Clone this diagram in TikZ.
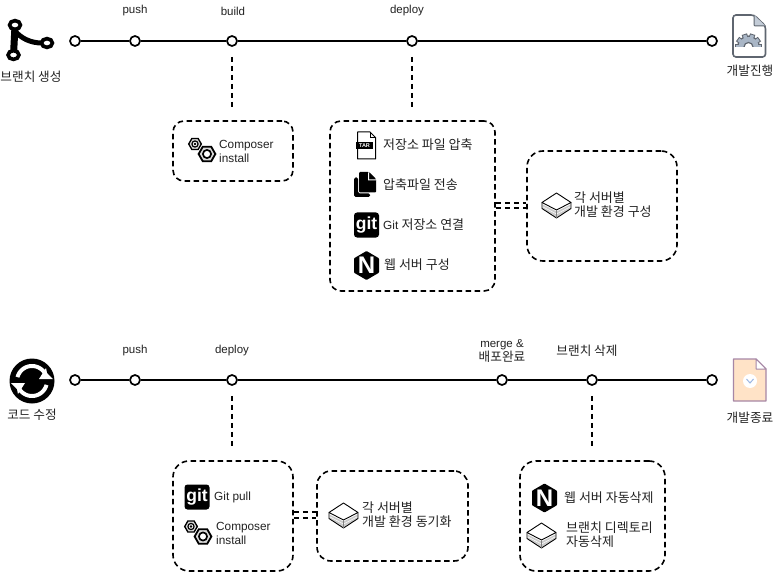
\documentclass[tikz,border=0pt]{standalone}
\usepackage{fontspec}
\setmainfont{Liberation Sans}
\newfontfamily\kr[Scale=1.1]{Noto Sans CJK KR}
\usetikzlibrary{calc}
\definecolor{txt}{HTML}{222222}
\definecolor{gearblue}{HTML}{A9B6C6}
\definecolor{gearline}{HTML}{5F6670}
\tikzset{
  x=1pt,y=-1pt,
  tl/.style={font=\fontsize{11.8}{14}\selectfont,text=txt,inner sep=0pt,align=left,anchor=west},
  tc/.style={font=\fontsize{11.5}{14}\selectfont,text=txt,inner sep=0pt,align=center,anchor=center},
  dot/.style={circle,draw=black,fill=white,line width=1.7pt,minimum size=10pt,inner sep=0pt},
  mainline/.style={draw=black,line width=1.8pt},
  dbox/.style={draw=black,line width=1.6pt,dash pattern=on 5.5pt off 3.5pt,rounded corners=11pt,fill=none,inner sep=0pt},
  dline/.style={draw=black,line width=1.8pt,dash pattern=on 5.5pt off 3.5pt},
  pics/nut/.style args={#1}{code={
    \draw[black,line width=#1*1.5pt,fill=white!70!gray] (0:#1*7)--(60:#1*7)--(120:#1*7)--(180:#1*7)--(240:#1*7)--(300:#1*7)--cycle;
    \draw[black,line width=#1*1.4pt,fill=white] (0,0) circle[radius=#1*3.4];
  }},
  pics/nuts/.style={code={
    \pic at (-6,-5) {nut={0.9}};
    \fill[black] (-6,-5) circle[radius=1.4];
    \pic at (6,5) {nut={1.2}};
  }},
  pics/gitlogo/.style={code={
    \fill[black,rounded corners=3pt] (-12.5,-12.5) rectangle (12.5,12.5);
    \node[text=white,inner sep=0pt,font=\fontsize{17.5}{17.5}\bfseries\selectfont] at (0,0.5) {git};
  }},
  pics/nginxlogo/.style={code={
    \fill[black,rounded corners=0.8pt] (0,-14.5)--(12.5,-7.2)--(12.5,7.2)--(0,14.5)--(-12.5,7.2)--(-12.5,-7.2)--cycle;
    \node[text=white,inner sep=0pt,font=\fontsize{24}{24}\bfseries\selectfont] at (0,0) {N};
  }},
  pics/serverbox/.style={code={
    \fill[white] (-14.5,-3)--(0,-12.5)--(14.5,-3)--(14.5,3)--(0,12.5)--(-14.5,3)--cycle;
    \fill[gray!40] (-14,-1)--(0,6)--(14,-1)--(14,3)--(0,11.5)--(-14,3)--cycle;
    \draw[white,line width=.5pt] (-14,1.2)--(0,8.5)--(14,1.2);
    \draw[black,line width=.9pt,line join=round] (-14.5,-3)--(0,-12.5)--(14.5,-3)--(0,4.5)--cycle;
    \draw[black,line width=.9pt,line join=round] (-14.5,-3)--(-14.5,3)--(0,12.5)--(14.5,3)--(14.5,-3);
    \draw[gray,line width=.8pt] (0,4.5)--(0,12.5);
  }},
  pics/tarfile/.style={code={
    \draw[black,line width=1pt,fill=white,line join=round] (-8.5,-13.5)--(4,-13.5)--(9.5,-8)--(9.5,13.5)--(-8.5,13.5)--cycle;
    \draw[black,line width=1pt] (4,-13.5)--(4,-8)--(9.5,-8);
    \fill[black] (-10,-3)rectangle(7,4);
    \node[text=white,inner sep=0pt,font=\fontsize{5.5}{5.5}\bfseries\selectfont] at (-1.5,.5) {TAR};
  }},
  pics/copyfile/.style={code={
    \fill[black,rounded corners=1.5pt] (-11,-7)--(-7,-7)--(-7,9)--(5,9)--(5,12.5)--(-11,12.5)--cycle;
    \fill[black,rounded corners=1pt] (-6,-12.5)--(4,-12.5)--(11,-5.5)--(11,8)--(-6,8)--cycle;
    \fill[white] (4,-12)--(4,-5)--(11,-5)--(11,-4)--(3,-4)--(3,-12)--cycle;
  }},
}
\begin{document}
\begin{tikzpicture}
\useasboundingbox (0,0) rectangle (776,572);
\fill[white] (0,0) rectangle (776,572);

% --- row 1 circles
\node[dot] (a0) at (75,41) {};
\node[dot] (a1) at (135,41) {};
\node[dot] (a2) at (232,41) {};
\node[dot] (a3) at (412,41) {};
\node[dot] (a4) at (712,41) {};
\draw[mainline] (a0)--(a1);
\draw[mainline] (a1)--(a2);
\draw[mainline] (a2)--(a3);
\draw[mainline] (a3)--(a4);

\node[tc] (lpush1) at (135,11) {push};
\node[tc] (lbuild) at (233,11) {build};
\node[tc] (ldep1) at (407,11) {deploy};

% --- row 2 circles
\node[dot] (b0) at (75,380) {};
\node[dot] (b1) at (135,380) {};
\node[dot] (b2) at (232,380) {};
\node[dot] (b3) at (502,380) {};
\node[dot] (b4) at (592,380) {};
\node[dot] (b5) at (712,380) {};
\draw[mainline] (b0)--(b1);
\draw[mainline] (b1)--(b2);
\draw[mainline] (b2)--(b3);
\draw[mainline] (b3)--(b4);
\draw[mainline] (b4)--(b5);

\node[tc] (lpush2) at (135,351) {push};
\node[tc] (ldep2) at (232,351) {deploy};
\node[tc] (lmerge) at (502,351) {merge \&\\{\kr 배포완료}};
\node[tc] (ldel) at (587,351) {\kr 브랜치 삭제};

% --- boxes
\node[dbox,minimum width=120pt,minimum height=60pt] (box1) at (233,151) {};
\node[dbox,minimum width=165pt,minimum height=170pt] (box2) at (412.5,206) {};
\node[dbox,minimum width=150pt,minimum height=110pt,rounded corners=16pt] (box3) at (602,206) {};
\node[dbox,minimum width=120pt,minimum height=110pt,rounded corners=16pt] (box4) at (233,516) {};
\node[dbox,minimum width=151pt,minimum height=90pt,rounded corners=14pt] (box5) at (392.5,516) {};
\node[dbox,minimum width=145pt,minimum height=110pt,rounded corners=16pt] (box6) at (592.5,516) {};

% --- dashed connectors
\draw[dline,shorten <=10pt,shorten >=11pt] (a2.south)--(a2.south |- box1.north);
\draw[dline,shorten <=10pt,shorten >=11pt] (a3.south)--(a3.south |- box2.north);
\draw[dline,shorten <=10pt,shorten >=11pt] (b2.south)--(b2.south |- box4.north);
\draw[dline,shorten <=10pt,shorten >=11pt] (b4.south)--(b4.south |- box6.north);
\draw[dline] ($(box2.east)+(0,-3)$)--($(box3.west)+(0,-3)$);
\draw[dline] ($(box2.east)+(0,2)$)--($(box3.west)+(0,2)$);
\draw[dline] ($(box4.east)+(0,-4)$)--($(box5.west)+(0,-4)$);
\draw[dline] ($(box4.east)+(0,2)$)--($(box5.west)+(0,2)$);

% --- branch icon
\draw[black,line width=7pt] (15,26)--(13.5,55);
\draw[black,line width=5pt] (15,31) .. controls (21,38) and (30,43) .. (42,43);
\foreach \p in {(15,25),(13.5,55),(47,43)}{
  \draw[black,line width=3.6pt,fill=white] \p circle[x radius=5.4,y radius=4.4];
}
\node[tc] (lbranch) at (31,77) {\kr 브랜치 생성};

% --- sync icon
\fill[black] (32,381) circle[radius=22.5];
\draw[white,line width=4pt] plot[domain=195:335,samples=24] ({32+15*cos(\x)},{381+15*sin(\x)});
\draw[white,line width=4pt] plot[domain=15:155,samples=24] ({32+15*cos(\x)},{381+15*sin(\x)});
\fill[white] (39,379)--(53,379)--(47,373)--(46,368)--cycle;
\fill[white] (25,383)--(11,383)--(17,389)--(18,394)--cycle;
\node[tc] (lcode) at (32,415) {\kr 코드 수정};

% --- gear document
\draw[fill=white,draw=gearline,line width=1.6pt,rounded corners=3pt] (733,15)--(754,15)--(765.5,26)--(765.5,57)--(733,57)--cycle;
\fill[gearblue!70] (754,15)--(765.5,26)--(754,26)--cycle;
\draw[gearline,line width=1pt,rounded corners=1pt] (754,15)--(754,26)--(765.5,26);
\begin{scope}
\clip (730,22) rectangle (768,47);
\foreach \a in {180,216,...,360}{
  \draw[gearline,line width=5.5pt] ($(748.5,47)+(\a:13.5)$)--($(748.5,47)+(\a:8)$);
}
\fill[gearline] (748.5,47) circle[radius=11.5];
\foreach \a in {180,216,...,360}{
  \draw[gearblue,line width=3.5pt] ($(748.5,47)+(\a:12.5)$)--($(748.5,47)+(\a:8)$);
}
\fill[gearblue] (748.5,47) circle[radius=10];
\draw[gearline,line width=1.2pt,fill=white] (748.5,47) circle[radius=4.5];
\end{scope}
\node[tc] (lprog) at (750,71) {\kr 개발진행};

% --- orange document
\draw[fill=orange!22!white,draw=violet!35!gray!70,line width=1.4pt,line join=round] (733.5,359)--(756,359)--(766,369)--(766,401)--(733.5,401)--cycle;
\draw[fill=white,draw=violet!35!gray!70,line width=1pt,line join=round] (756,359)--(756,369)--(766,369)--cycle;
\fill[white] (750,381) circle[radius=7];
\draw[cyan!50!blue!40!white,line width=1pt] (746.5,379)--(750,383)--(753.5,379);
\node[tc] (lend) at (750,418) {\kr 개발종료};

% --- box 1
\pic at (201,149) {nuts};
\node[tl] (t1) at (219,151) {Composer\\install};

% --- box 2
\pic at (366,145.5) {tarfile};
\node[tl] (t2) at (383,145) {\kr 저장소 파일 압축};
\pic at (365,184.5) {copyfile};
\node[tl] (t3) at (383,185) {\kr 압축파일 전송};
\pic at (366.5,225) {gitlogo};
\node[tl] (t4) at (383,225) {Git {\kr 저장소 연결}};
\pic at (366.5,265.5) {nginxlogo};
\node[tl] (t5) at (384,264.5) {\kr 웹 서버 구성};

% --- box 3
\pic at (556.5,205.5) {serverbox};
\node[tl] (t6) at (574,204.5) {\kr 각 서버별\\\kr 개발 환경 구성};

% --- box 4
\pic at (197,497) {gitlogo};
\node[tl] (t7) at (214,497) {Git pull};
\pic at (197,531.5) {nuts};
\node[tl] (t8) at (216,533) {Composer\\install};

% --- box 5
\pic at (343.5,515.5) {serverbox};
\node[tl] (t9) at (362,514.5) {\kr 각 서버별\\\kr 개발 환경 동기화};

% --- box 6
\pic at (544.5,498) {nginxlogo};
\node[tl] (t10) at (564,498) {\kr 웹 서버 자동삭제};
\pic at (541.5,535.5) {serverbox};
\node[tl] (t11) at (566,535) {\kr 브랜치 디렉토리\\\kr 자동삭제};
\end{tikzpicture}
\end{document}
